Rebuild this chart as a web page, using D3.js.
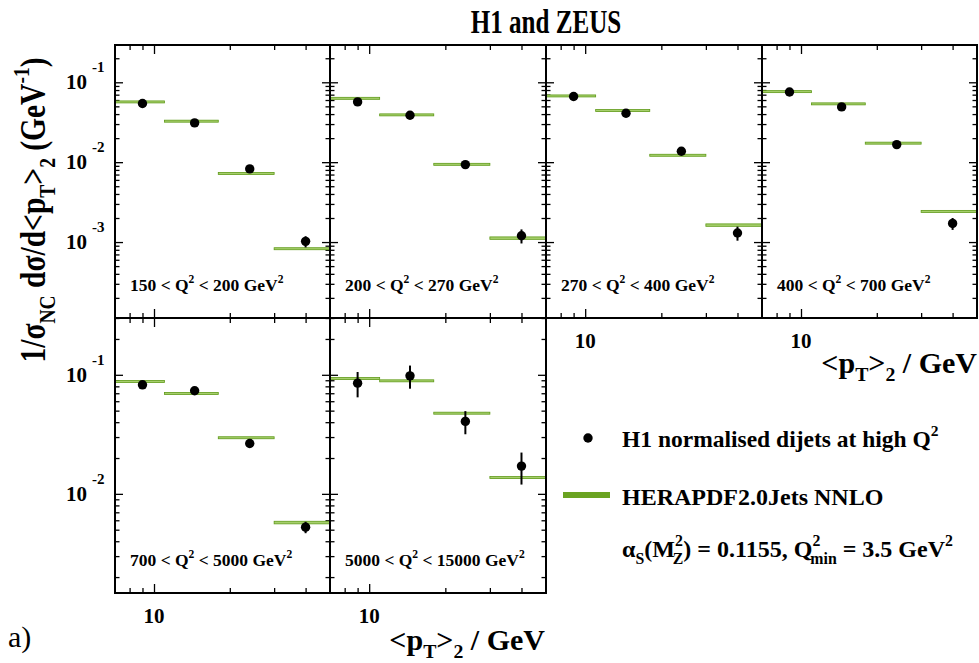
<!DOCTYPE html>
<html><head><meta charset="utf-8">
<script src="https://cdn.jsdelivr.net/npm/d3@7"></script>
<style>
body{margin:0;background:#fff}
svg{display:block}
text{font-family:"Liberation Serif","DejaVu Serif","Times New Roman",serif;font-weight:bold;fill:#000}
</style>
</head><body>
<svg id="c" width="979" height="663"></svg>
<script>
// ---------------- data ----------------
const q2Low  = [150, 200, 270, 400, 700, 5000];
const q2High = [200, 270, 400, 700, 5000, 15000];
const ptBinEdges = [7, 11, 18, 30, 50];
const ptCenters  = [9, 14.5, 24, 40];
// H1 normalised dijet cross sections (GeV^-1)
const h1Values = [
  [0.0542, 0.0310, 0.00824, 0.00102],
  [0.0568, 0.0387, 0.00933, 0.00120],
  [0.0663, 0.0410, 0.0137,  0.00130],
  [0.0757, 0.0492, 0.0166,  0.00171],
  [0.0824, 0.0734, 0.0265,  0.00525],
  [0.0851, 0.0980, 0.0406,  0.0171]
];
// relative total uncertainties
const h1Errors = [
  [0.04, 0.04, 0.05, 0.16],
  [0.04, 0.04, 0.05, 0.20],
  [0.04, 0.04, 0.05, 0.20],
  [0.04, 0.04, 0.05, 0.17],
  [0.04, 0.04, 0.05, 0.11],
  [0.24, 0.22, 0.22, 0.30]
];
// HERAPDF2.0Jets NNLO predictions
const theoryValues = [
  [0.0568, 0.0326, 0.00722, 0.000825],
  [0.0630, 0.0391, 0.00940, 0.00112],
  [0.0675, 0.0443, 0.0122,  0.00163],
  [0.0764, 0.0537, 0.0173,  0.00242],
  [0.0879, 0.0697, 0.0296,  0.00574],
  [0.0930, 0.0890, 0.0476,  0.0137]
];
const theoryUnc = [
  [0.01, 0.01, 0.01, 0.015],
  [0.01, 0.01, 0.01, 0.035],
  [0.01, 0.015, 0.01, 0.035],
  [0.01, 0.01, 0.01, 0.015],
  [0.01, 0.01, 0.01, 0.025],
  [0.01, 0.015, 0.015, 0.015]
];
const xTickValues = [8, 9, 10, 20, 30, 40];
const xTickMajor  = [10];
const topRowYLabels = [-1, -2, -3];
const botRowYLabels = [-1, -2];

// ---------------- layout ----------------
const svg = d3.select("#c");
const colX = [115, 330, 546, 762, 977];
const rowY = [[45, 318], [318, 593]];
const topDomain = [1.12e-4, 0.293];
const botDomain = [1.47e-3, 0.30];
const GREEN_DARK = "#5f9a18", GREEN_LIGHT = "#a6cf6c";

function rich(g, x, y, parts, size, anchor) {
  const t = g.append("text").attr("x", x).attr("y", y)
    .attr("font-size", size).attr("text-anchor", anchor || "start");
  let cur = 0;
  parts.forEach(p => {
    const s = typeof p === "string" ? p : p.t;
    const type = typeof p === "string" ? null : p.type;
    const off = type === "sub" ? size * 0.28 : type === "sup" ? -size * 0.45 : 0;
    const ts = t.append("tspan").text(s).attr("dy", off - cur);
    if (type) ts.attr("font-size", size * 0.66);
    if (p.dx) ts.attr("dx", p.dx);
    cur = off;
  });
  return t;
}

const panels = d3.range(6).map(i => {
  const row = i < 4 ? 0 : 1, col = i < 4 ? i : i - 4;
  return {i, row, col, x0: colX[col], x1: colX[col + 1], y0: rowY[row][0], y1: rowY[row][1]};
});

panels.forEach(p => {
  const g = svg.append("g");
  const x = d3.scaleLog().domain([ptBinEdges[0], ptBinEdges[4]]).range([p.x0, p.x1]);
  const y = d3.scaleLog().domain(p.row === 0 ? topDomain : botDomain).range([p.y1, p.y0]);

  // y ticks
  const yt = y.ticks().filter(v => v >= y.domain()[0] && v <= y.domain()[1]);
  const yMaj = yt.filter(v => Math.abs(Math.log10(v) - Math.round(Math.log10(v))) < 1e-6);
  const yMin = yt.filter(v => !yMaj.includes(v));
  const axes = [
    [d3.axisLeft(y).tickValues(yMaj).tickSize(-8), p.x0],
    [d3.axisLeft(y).tickValues(yMin).tickSize(-4.5), p.x0],
    [d3.axisRight(y).tickValues(yMaj).tickSize(-8), p.x1],
    [d3.axisRight(y).tickValues(yMin).tickSize(-4.5), p.x1]
  ];
  axes.forEach(([ax, tx]) => {
    const a = g.append("g").attr("transform", `translate(${tx},0)`).call(ax.tickFormat(""));
    a.select(".domain").remove();
    a.selectAll("line").attr("stroke", "#000").attr("stroke-width", 1.3);
  });
  // x ticks
  const xMin = xTickValues.filter(v => !xTickMajor.includes(v));
  const xaxes = [
    [d3.axisBottom(x).tickValues(xTickMajor).tickSize(-9), p.y1],
    [d3.axisBottom(x).tickValues(xMin).tickSize(-5), p.y1],
    [d3.axisTop(x).tickValues(xTickMajor).tickSize(-9), p.y0],
    [d3.axisTop(x).tickValues(xMin).tickSize(-5), p.y0]
  ];
  xaxes.forEach(([ax, ty]) => {
    const a = g.append("g").attr("transform", `translate(0,${ty})`).call(ax.tickFormat(""));
    a.select(".domain").remove();
    a.selectAll("line").attr("stroke", "#000").attr("stroke-width", 1.3);
  });

  // theory bands
  const th = theoryValues[p.i].map((v, k) => ({v, u: theoryUnc[p.i][k], lo: ptBinEdges[k], hi: ptBinEdges[k + 1]}));
  const bh = d => Math.max(2, y(d.v * (1 - d.u)) - y(d.v * (1 + d.u)));
  g.selectAll("rect.th").data(th).join("rect")
    .attr("x", d => x(d.lo)).attr("width", d => x(d.hi) - x(d.lo))
    .attr("y", d => y(d.v) - bh(d) / 2)
    .attr("height", bh)
    .attr("fill", GREEN_LIGHT).attr("stroke", GREEN_DARK).attr("stroke-width", 0.8);

  // data points
  const pts = h1Values[p.i].map((v, k) => ({v, e: h1Errors[p.i][k], x: ptCenters[k]}));
  g.selectAll("line.err").data(pts).join("line")
    .attr("x1", d => x(d.x)).attr("x2", d => x(d.x))
    .attr("y1", d => y(d.v * (1 + d.e))).attr("y2", d => y(d.v * (1 - d.e)))
    .attr("stroke", "#000").attr("stroke-width", 2);
  g.selectAll("circle").data(pts).join("circle")
    .attr("cx", d => x(d.x)).attr("cy", d => y(d.v)).attr("r", 4.7).attr("fill", "#000");

  // frame
  g.append("rect").attr("x", p.x0).attr("y", p.y0).attr("width", p.x1 - p.x0).attr("height", p.y1 - p.y0)
    .attr("fill", "none").attr("stroke", "#000").attr("stroke-width", 2);

  // panel label
  rich(g, p.x0 + 15, p.y1 - 27, [`${q2Low[p.i]} < Q`, {t: "2", type: "sup"}, ` < ${q2High[p.i]} GeV`, {t: "2", type: "sup"}], 17.5);

  // y tick labels
  if (p.col === 0) {
    (p.row === 0 ? topRowYLabels : botRowYLabels).forEach(e => {
      const yy = y(Math.pow(10, e));
      g.append("text").attr("x", p.x0 - 28).attr("y", yy + 7).attr("font-size", 21).attr("text-anchor", "end").text("10");
      g.append("text").attr("x", p.x0 - 23).attr("y", yy - 10).attr("font-size", 15).attr("text-anchor", "start").text(e);
    });
  }
  // x tick labels
  if (p.row === 1 || p.col >= 2) {
    xTickMajor.forEach(v => {
      g.append("text").attr("x", x(v)).attr("y", p.y1 + 30).attr("font-size", 21).attr("text-anchor", "middle").text(v);
    });
  }
});

// x-axis titles
const xTitle = ["<p", {t: "T", type: "sub"}, ">", {t: "2", type: "sub"}, " / GeV"];
rich(svg, 545, 650, xTitle, 30, "end");
rich(svg, 977, 373, xTitle, 30, "end");

// y-axis title
const yg = svg.append("g").attr("transform", "translate(45,210) rotate(-90) scale(0.82,1)");
rich(yg, 0, 0, ["1/σ", {t: "NC", type: "sub"}, " dσ/d<p", {t: "T", type: "sub"}, ">", {t: "2", type: "sub"}, " (GeV", {t: "-1", type: "sup"}, ")"], 36, "middle");

// title
svg.append("g").attr("transform", "translate(546,33) scale(0.76,1)")
  .append("text").attr("x", 0).attr("y", 0).attr("font-size", 33).attr("text-anchor", "middle").text("H1 and ZEUS");

// legend
const lg = svg.append("g");
lg.append("circle").attr("cx", 588).attr("cy", 438).attr("r", 4.7).attr("fill", "#000");
rich(lg, 622, 447, ["H1 normalised dijets at high Q", {t: "2", type: "sup"}], 23.5);
lg.append("line").attr("x1", 563).attr("x2", 610).attr("y1", 495).attr("y2", 495)
  .attr("stroke", "#6aa321").attr("stroke-width", 6);
rich(lg, 622, 505, ["HERAPDF2.0Jets NNLO"], 24);
rich(lg, 622, 557, ["α", {t: "S", type: "sub"}, "(M", {t: "2", type: "sup"}, {t: "Z", type: "sub", dx: -10}, ") = 0.1155, Q",
  {t: "2", type: "sup"}, {t: "min", type: "sub", dx: -10}, " = 3.5 GeV", {t: "2", type: "sup"}], 24);

// a)
svg.append("text").attr("x", 8).attr("y", 647).attr("font-size", 30).style("font-weight", "normal").text("a)");
</script>
</body></html>
